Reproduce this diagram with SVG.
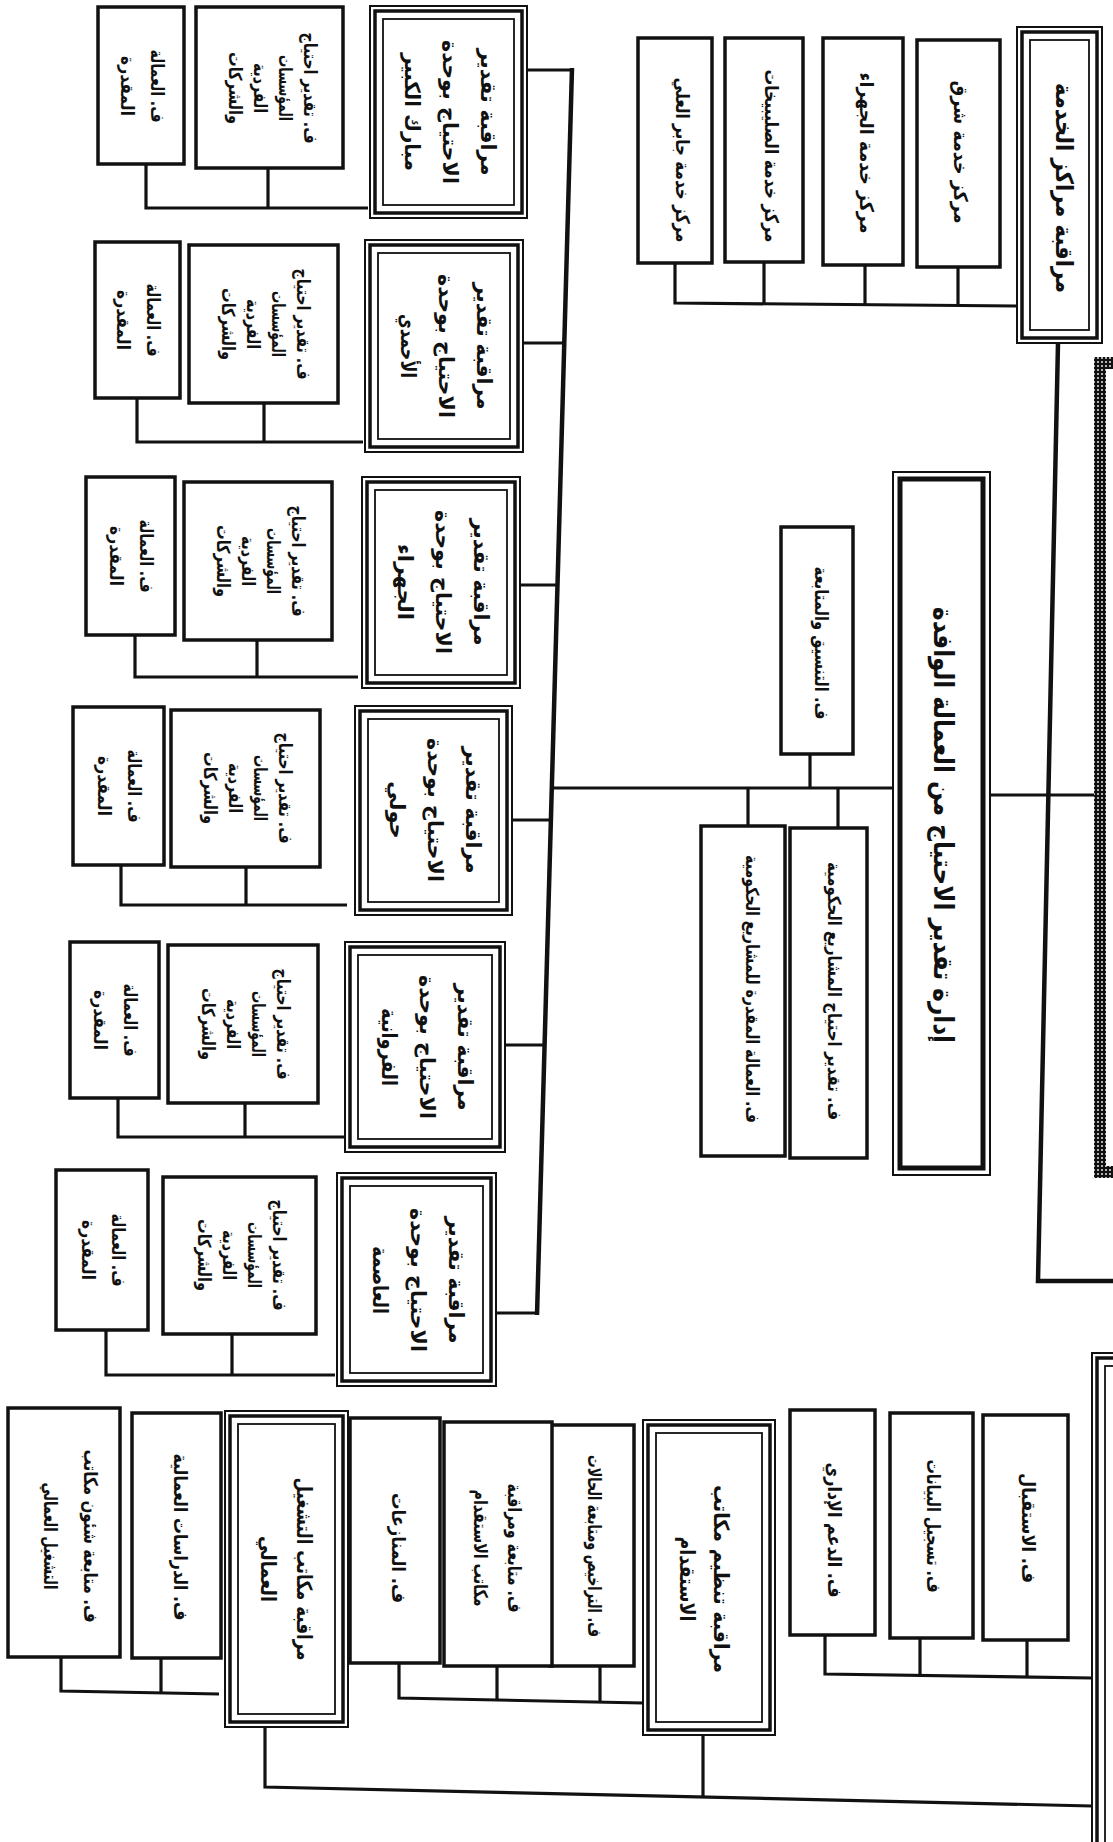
<svg xmlns="http://www.w3.org/2000/svg" width="1113" height="1842" viewBox="0 0 1113 1842">
<style>
.b{fill:#fff;stroke:#111;stroke-width:3.5}
.o{fill:#fff;stroke:#111;stroke-width:2}
.m{fill:none;stroke:#111;stroke-width:3.5}
.i{fill:none;stroke:#111;stroke-width:1.8}
.ln{fill:none;stroke:#111;stroke-width:3.2}
.sp{fill:none;stroke:#111;stroke-width:4.5}
text{font-family:"DejaVu Sans",sans-serif;font-weight:bold;text-anchor:middle;dominant-baseline:central;fill:#111}
.f27{font-size:27px}.f24{font-size:24px}.f21{font-size:21px}.f19{font-size:19px}.f18{font-size:18px}
</style>
<defs>
<pattern id="ht" width="4" height="4" patternUnits="userSpaceOnUse"><rect width="4" height="4" fill="#111"/><circle cx="2" cy="2" r="0.9" fill="#fff"/></pattern>
</defs>
<rect width="1113" height="1842" fill="#fff"/>

<g id="connectors">
<polyline class="ln" points="675,263 675,303 1017,306"/>
<line class="ln" x1="958" y1="267" x2="958" y2="305"/>
<line class="ln" x1="865" y1="265" x2="865" y2="305"/>
<line class="ln" x1="764" y1="262" x2="764" y2="304"/>
<polyline class="sp" points="1058,343 1038,1281 1113,1281"/>
<line class="ln" x1="990" y1="795" x2="1094" y2="795"/>
<line class="ln" x1="552" y1="788" x2="893" y2="788"/>
<line class="ln" x1="810" y1="754" x2="810" y2="788"/>
<line class="ln" x1="748" y1="788" x2="748" y2="826"/>
<line class="ln" x1="838" y1="788" x2="838" y2="828"/>
<line class="sp" x1="572" y1="68" x2="537" y2="1315"/>
<line class="ln" x1="527" y1="70" x2="572" y2="70"/>
<line class="ln" x1="523" y1="343" x2="564" y2="343"/>
<line class="ln" x1="520" y1="585" x2="557" y2="585"/>
<line class="ln" x1="512" y1="820" x2="551" y2="820"/>
<line class="ln" x1="505" y1="1045" x2="544" y2="1045"/>
<line class="ln" x1="496" y1="1313" x2="537" y2="1313"/>
<polyline class="ln" points="146,164 146,208 368,208"/><line class="ln" x1="268" y1="168" x2="268" y2="208"/>
<polyline class="ln" points="137,398 137,442 363,442"/><line class="ln" x1="264" y1="403" x2="264" y2="442"/>
<polyline class="ln" points="135,635 135,677 358,677"/><line class="ln" x1="257" y1="640" x2="257" y2="677"/>
<polyline class="ln" points="121,865 121,905 347,905"/><line class="ln" x1="246" y1="867" x2="246" y2="905"/>
<polyline class="ln" points="118,1098 118,1137 345,1137"/><line class="ln" x1="245" y1="1103" x2="245" y2="1137"/>
<polyline class="ln" points="106,1330 106,1375 335,1375"/><line class="ln" x1="232" y1="1334" x2="232" y2="1375"/>
<polyline class="ln" points="825,1635 825,1674 1092,1678"/>
<line class="ln" x1="920" y1="1638" x2="920" y2="1676"/>
<line class="ln" x1="1027" y1="1640" x2="1027" y2="1677"/>
<polyline class="ln" points="265,1727 265,1787 1092,1806"/>
<line class="ln" x1="703" y1="1735" x2="703" y2="1797"/>
<polyline class="ln" points="399,1663 399,1698 643,1703"/>
<line class="ln" x1="497" y1="1666" x2="497" y2="1700"/>
<line class="ln" x1="600" y1="1666" x2="600" y2="1702"/>
<polyline class="ln" points="61,1657 61,1691 219,1694"/>
<line class="ln" x1="161" y1="1658" x2="161" y2="1693"/>
</g>

<g id="main-dotted"><rect x="1100" y="363" width="120" height="809" fill="#fff" stroke="url(#ht)" stroke-width="12"/></g>
<g id="bottom-right-head"><rect class="o" x="1092" y="1353" width="120" height="600"/><rect class="m" x="1097" y="1358" width="110" height="590"/><rect class="i" x="1105" y="1366" width="100" height="580"/></g>

<g id="svc-head"><rect class="o" x="1017" y="27" width="85" height="316"/><rect class="m" x="1022" y="32" width="75" height="306"/><rect class="i" x="1030" y="40" width="59" height="290"/>
<text class="f24" transform="translate(1064,188) rotate(90)" textLength="210" lengthAdjust="spacingAndGlyphs">مراقبة مراكز الخدمة</text></g>
<g id="svc1"><rect class="b" x="917" y="40" width="83" height="227"/><text class="f19" transform="translate(961,152) rotate(90)" textLength="143" lengthAdjust="spacingAndGlyphs">مركز خدمة شرق</text></g>
<g id="svc2"><rect class="b" x="823" y="38" width="80" height="227"/><text class="f19" transform="translate(867,153) rotate(90)" textLength="161" lengthAdjust="spacingAndGlyphs">مركز خدمة الجهراء</text></g>
<g id="svc3"><rect class="b" x="725" y="38" width="78" height="224"/><text class="f19" transform="translate(772,156) rotate(90)" textLength="173" lengthAdjust="spacingAndGlyphs">مركز خدمة الصليبيخات</text></g>
<g id="svc4"><rect class="b" x="638" y="38" width="74" height="225"/><text class="f19" transform="translate(683,160) rotate(90)" textLength="165" lengthAdjust="spacingAndGlyphs">مركز خدمة جابر العلي</text></g>

<g id="title"><rect class="o" x="893" y="472" width="97" height="703"/><rect fill="none" stroke="#111" stroke-width="5" x="900" y="479" width="83" height="689"/>
<text class="f27" transform="translate(943,825) rotate(90)" textLength="436" lengthAdjust="spacingAndGlyphs">إدارة تقدير الاحتياج من العمالة الوافدة</text></g>
<g id="coord"><rect class="b" x="781" y="527" width="72" height="227"/><text class="f18" transform="translate(821,643) rotate(90)" textLength="153" lengthAdjust="spacingAndGlyphs">ف. التنسيق والمتابعة</text></g>
<g id="mid1"><rect class="b" x="790" y="828" width="77" height="330"/><text class="f18" transform="translate(834,991) rotate(90)" textLength="258" lengthAdjust="spacingAndGlyphs">ف. تقدير احتياج المشاريع الحكومية</text></g>
<g id="mid2"><rect class="b" x="701" y="826" width="84" height="330"/><text class="f18" transform="translate(752,989) rotate(90)" textLength="268" lengthAdjust="spacingAndGlyphs">ف. العمالة المقدرة للمشاريع الحكومية</text></g>

<g id="unitA"><rect class="o" x="370" y="6" width="157" height="212"/><rect class="m" x="375" y="11" width="147" height="202"/><rect class="i" x="383" y="19" width="131" height="186"/>
<text class="f21" transform="translate(450,112) rotate(90)"><tspan x="0" y="-38" textLength="127" lengthAdjust="spacingAndGlyphs">مراقبة تقدير</tspan><tspan x="0" y="0" textLength="144" lengthAdjust="spacingAndGlyphs">الاحتياج بوحدة</tspan><tspan x="0" y="38" textLength="118" lengthAdjust="spacingAndGlyphs">مبارك الكبير</tspan></text></g>
<g id="unitA1"><rect class="b" x="196" y="7" width="147" height="161"/><text class="f18" transform="translate(273,88) rotate(90)"><tspan x="0" y="-37.5" textLength="111" lengthAdjust="spacingAndGlyphs">ف. تقدير احتياج</tspan><tspan x="0" y="-12.5" textLength="66" lengthAdjust="spacingAndGlyphs">المؤسسات</tspan><tspan x="0" y="12.5" textLength="50" lengthAdjust="spacingAndGlyphs">الفردية</tspan><tspan x="0" y="37.5" textLength="72" lengthAdjust="spacingAndGlyphs">والشركات</tspan></text></g>
<g id="unitA2"><rect class="b" x="98" y="7" width="86" height="157"/><text class="f18" transform="translate(143,86) rotate(90)"><tspan x="0" y="-15" textLength="73" lengthAdjust="spacingAndGlyphs">ف. العمالة</tspan><tspan x="0" y="15" textLength="60" lengthAdjust="spacingAndGlyphs">المقدرة</tspan></text></g>

<g id="unitB"><rect class="o" x="365" y="240" width="158" height="212"/><rect class="m" x="370" y="245" width="148" height="202"/><rect class="i" x="378" y="253" width="132" height="186"/>
<text class="f21" transform="translate(446,346) rotate(90)"><tspan x="0" y="-38" textLength="127" lengthAdjust="spacingAndGlyphs">مراقبة تقدير</tspan><tspan x="0" y="0" textLength="144" lengthAdjust="spacingAndGlyphs">الاحتياج بوحدة</tspan><tspan x="0" y="38" textLength="64" lengthAdjust="spacingAndGlyphs">الأحمدي</tspan></text></g>
<g id="unitB1"><rect class="b" x="189" y="245" width="149" height="158"/><text class="f18" transform="translate(266,324) rotate(90)"><tspan x="0" y="-37.5" textLength="111" lengthAdjust="spacingAndGlyphs">ف. تقدير احتياج</tspan><tspan x="0" y="-12.5" textLength="66" lengthAdjust="spacingAndGlyphs">المؤسسات</tspan><tspan x="0" y="12.5" textLength="50" lengthAdjust="spacingAndGlyphs">الفردية</tspan><tspan x="0" y="37.5" textLength="72" lengthAdjust="spacingAndGlyphs">والشركات</tspan></text></g>
<g id="unitB2"><rect class="b" x="95" y="242" width="85" height="156"/><text class="f18" transform="translate(139,320) rotate(90)"><tspan x="0" y="-15" textLength="73" lengthAdjust="spacingAndGlyphs">ف. العمالة</tspan><tspan x="0" y="15" textLength="60" lengthAdjust="spacingAndGlyphs">المقدرة</tspan></text></g>

<g id="unitC"><rect class="o" x="362" y="477" width="158" height="211"/><rect class="m" x="367" y="482" width="148" height="201"/><rect class="i" x="375" y="490" width="132" height="185"/>
<text class="f21" transform="translate(443,582) rotate(90)"><tspan x="0" y="-38" textLength="127" lengthAdjust="spacingAndGlyphs">مراقبة تقدير</tspan><tspan x="0" y="0" textLength="144" lengthAdjust="spacingAndGlyphs">الاحتياج بوحدة</tspan><tspan x="0" y="38" textLength="76" lengthAdjust="spacingAndGlyphs">الجهراء</tspan></text></g>
<g id="unitC1"><rect class="b" x="184" y="482" width="148" height="158"/><text class="f18" transform="translate(261,561) rotate(90)"><tspan x="0" y="-37.5" textLength="111" lengthAdjust="spacingAndGlyphs">ف. تقدير احتياج</tspan><tspan x="0" y="-12.5" textLength="66" lengthAdjust="spacingAndGlyphs">المؤسسات</tspan><tspan x="0" y="12.5" textLength="50" lengthAdjust="spacingAndGlyphs">الفردية</tspan><tspan x="0" y="37.5" textLength="72" lengthAdjust="spacingAndGlyphs">والشركات</tspan></text></g>
<g id="unitC2"><rect class="b" x="86" y="477" width="89" height="158"/><text class="f18" transform="translate(132,556) rotate(90)"><tspan x="0" y="-15" textLength="73" lengthAdjust="spacingAndGlyphs">ف. العمالة</tspan><tspan x="0" y="15" textLength="60" lengthAdjust="spacingAndGlyphs">المقدرة</tspan></text></g>

<g id="unitD"><rect class="o" x="355" y="706" width="157" height="209"/><rect class="m" x="360" y="711" width="147" height="199"/><rect class="i" x="368" y="719" width="131" height="183"/>
<text class="f21" transform="translate(435,810) rotate(90)"><tspan x="0" y="-38" textLength="127" lengthAdjust="spacingAndGlyphs">مراقبة تقدير</tspan><tspan x="0" y="0" textLength="144" lengthAdjust="spacingAndGlyphs">الاحتياج بوحدة</tspan><tspan x="0" y="38">حولي</tspan></text></g>
<g id="unitD1"><rect class="b" x="171" y="710" width="149" height="157"/><text class="f18" transform="translate(248,788) rotate(90)"><tspan x="0" y="-37.5" textLength="111" lengthAdjust="spacingAndGlyphs">ف. تقدير احتياج</tspan><tspan x="0" y="-12.5" textLength="66" lengthAdjust="spacingAndGlyphs">المؤسسات</tspan><tspan x="0" y="12.5" textLength="50" lengthAdjust="spacingAndGlyphs">الفردية</tspan><tspan x="0" y="37.5" textLength="72" lengthAdjust="spacingAndGlyphs">والشركات</tspan></text></g>
<g id="unitD2"><rect class="b" x="73" y="707" width="91" height="158"/><text class="f18" transform="translate(120,786) rotate(90)"><tspan x="0" y="-15" textLength="73" lengthAdjust="spacingAndGlyphs">ف. العمالة</tspan><tspan x="0" y="15" textLength="60" lengthAdjust="spacingAndGlyphs">المقدرة</tspan></text></g>

<g id="unitE"><rect class="o" x="345" y="942" width="160" height="210"/><rect class="m" x="350" y="947" width="150" height="200"/><rect class="i" x="358" y="955" width="134" height="184"/>
<text class="f21" transform="translate(427,1047) rotate(90)"><tspan x="0" y="-38" textLength="127" lengthAdjust="spacingAndGlyphs">مراقبة تقدير</tspan><tspan x="0" y="0" textLength="144" lengthAdjust="spacingAndGlyphs">الاحتياج بوحدة</tspan><tspan x="0" y="38" textLength="78" lengthAdjust="spacingAndGlyphs">الفروانية</tspan></text></g>
<g id="unitE1"><rect class="b" x="168" y="945" width="150" height="158"/><text class="f18" transform="translate(246,1024) rotate(90)"><tspan x="0" y="-37.5" textLength="111" lengthAdjust="spacingAndGlyphs">ف. تقدير احتياج</tspan><tspan x="0" y="-12.5" textLength="66" lengthAdjust="spacingAndGlyphs">المؤسسات</tspan><tspan x="0" y="12.5" textLength="50" lengthAdjust="spacingAndGlyphs">الفردية</tspan><tspan x="0" y="37.5" textLength="72" lengthAdjust="spacingAndGlyphs">والشركات</tspan></text></g>
<g id="unitE2"><rect class="b" x="70" y="942" width="89" height="156"/><text class="f18" transform="translate(116,1020) rotate(90)"><tspan x="0" y="-15" textLength="73" lengthAdjust="spacingAndGlyphs">ف. العمالة</tspan><tspan x="0" y="15" textLength="60" lengthAdjust="spacingAndGlyphs">المقدرة</tspan></text></g>

<g id="unitF"><rect class="o" x="337" y="1173" width="159" height="213"/><rect class="m" x="342" y="1178" width="149" height="203"/><rect class="i" x="350" y="1186" width="133" height="187"/>
<text class="f21" transform="translate(418,1280) rotate(90)"><tspan x="0" y="-38" textLength="127" lengthAdjust="spacingAndGlyphs">مراقبة تقدير</tspan><tspan x="0" y="0" textLength="144" lengthAdjust="spacingAndGlyphs">الاحتياج بوحدة</tspan><tspan x="0" y="38" textLength="68" lengthAdjust="spacingAndGlyphs">العاصمة</tspan></text></g>
<g id="unitF1"><rect class="b" x="163" y="1177" width="153" height="157"/><text class="f18" transform="translate(242,1255) rotate(90)"><tspan x="0" y="-37.5" textLength="111" lengthAdjust="spacingAndGlyphs">ف. تقدير احتياج</tspan><tspan x="0" y="-12.5" textLength="66" lengthAdjust="spacingAndGlyphs">المؤسسات</tspan><tspan x="0" y="12.5" textLength="50" lengthAdjust="spacingAndGlyphs">الفردية</tspan><tspan x="0" y="37.5" textLength="72" lengthAdjust="spacingAndGlyphs">والشركات</tspan></text></g>
<g id="unitF2"><rect class="b" x="56" y="1170" width="92" height="160"/><text class="f18" transform="translate(104,1250) rotate(90)"><tspan x="0" y="-15" textLength="73" lengthAdjust="spacingAndGlyphs">ف. العمالة</tspan><tspan x="0" y="15" textLength="60" lengthAdjust="spacingAndGlyphs">المقدرة</tspan></text></g>

<g id="b1"><rect class="b" x="983" y="1415" width="85" height="225"/><text class="f19" transform="translate(1029,1528) rotate(90)" textLength="110" lengthAdjust="spacingAndGlyphs">ف. الاستقبال</text></g>
<g id="b2"><rect class="b" x="890" y="1413" width="83" height="225"/><text class="f19" transform="translate(934,1526) rotate(90)" textLength="133" lengthAdjust="spacingAndGlyphs">ف. تسجيل البيانات</text></g>
<g id="b3"><rect class="b" x="790" y="1410" width="85" height="225"/><text class="f19" transform="translate(835,1530) rotate(90)" textLength="135" lengthAdjust="spacingAndGlyphs">ف. الدعم الإداري</text></g>

<g id="bm1"><rect class="o" x="643" y="1420" width="132" height="315"/><rect class="m" x="648" y="1425" width="122" height="305"/><rect class="i" x="656" y="1433" width="106" height="289"/>
<text class="f21" transform="translate(704,1579) rotate(90)"><tspan x="0" y="-17" textLength="188" lengthAdjust="spacingAndGlyphs">مراقبة تنظيم مكاتب</tspan><tspan x="0" y="17" textLength="85" lengthAdjust="spacingAndGlyphs">الاستقدام</tspan></text></g>
<g id="bc1"><rect class="b" x="550" y="1425" width="84" height="241"/><text class="f19" transform="translate(595,1546) rotate(90)" textLength="182" lengthAdjust="spacingAndGlyphs">ف. التراخيص ومتابعة الحالات</text></g>
<g id="bc2"><rect class="b" x="444" y="1422" width="108" height="244"/><text class="f19" transform="translate(498,1548) rotate(90)"><tspan x="0" y="-17" textLength="129" lengthAdjust="spacingAndGlyphs">ف. متابعة ومراقبة</tspan><tspan x="0" y="17" textLength="117" lengthAdjust="spacingAndGlyphs">مكاتب الاستقدام</tspan></text></g>
<g id="bc3"><rect class="b" x="350" y="1418" width="90" height="245"/><text class="f19" transform="translate(399,1548) rotate(90)" textLength="110" lengthAdjust="spacingAndGlyphs">ف. المنازعات</text></g>

<g id="bm2"><rect class="o" x="225" y="1411" width="123" height="316"/><rect class="m" x="230" y="1416" width="113" height="306"/><rect class="i" x="238" y="1424" width="97" height="290"/>
<text class="f21" transform="translate(286,1569) rotate(90)"><tspan x="0" y="-18" textLength="183" lengthAdjust="spacingAndGlyphs">مراقبة مكاتب التشغيل</tspan><tspan x="0" y="18" textLength="66" lengthAdjust="spacingAndGlyphs">العمالي</tspan></text></g>
<g id="bd1"><rect class="b" x="132" y="1413" width="89" height="245"/><text class="f19" transform="translate(181,1537) rotate(90)" textLength="167" lengthAdjust="spacingAndGlyphs">ف. الدراسات العمالية</text></g>
<g id="bd2"><rect class="b" x="8" y="1408" width="112" height="249"/><text class="f19" transform="translate(71,1536) rotate(90)"><tspan x="0" y="-20" textLength="173" lengthAdjust="spacingAndGlyphs">ف. متابعة شئون مكاتب</tspan><tspan x="0" y="20" textLength="107" lengthAdjust="spacingAndGlyphs">التشغيل العمالي</tspan></text></g>
</svg>
